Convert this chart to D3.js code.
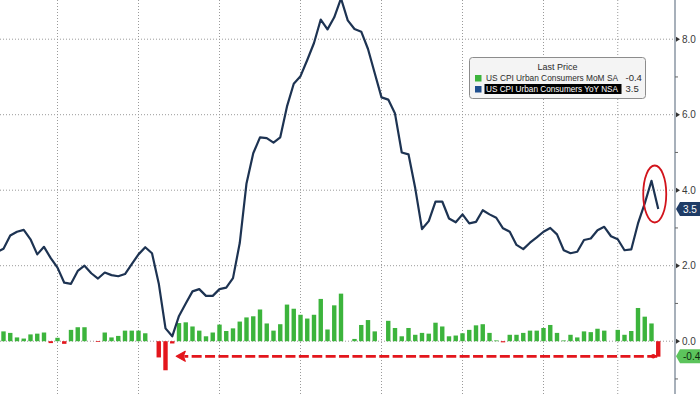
<!DOCTYPE html>
<html lang="en">
<head>
<meta charset="UTF-8">
<title>US CPI Urban Consumers YoY vs MoM</title>
<style>
  body { margin: 0; background: #fff; font-family: "Liberation Sans", Arial, sans-serif; }
  svg { display: block; }
  .grid line { stroke: #9a9a9a; stroke-width: 1; stroke-dasharray: 1,2; }
  .tick-label { font-size: 10px; fill: #3a3a3a; }
  .legend text { font-size: 9.5px; fill: #2b2b2b; }
  .legend text.name { font-size: 8.6px; }
</style>
</head>
<body>
<script src="https://cdn.jsdelivr.net/npm/d3@7"></script>
<script>
// monthly observations, Mar 2018 .. May 2026
const months = d3.timeMonth.range(new Date(2018, 2, 1), new Date(2026, 5, 1)).map(d3.timeFormat("%Y-%m"));

// US CPI YoY NSA (line)
const yoy = [2.36,
  2.45, 2.8, 2.9, 2.95, 2.7, 2.3, 2.5, 2.2, 1.95, 1.55,
  1.52, 1.86, 2.0, 1.8, 1.66, 1.82, 1.75, 1.72, 1.78, 2.04,
  2.3, 2.49, 2.33, 1.53, 0.34, 0.13, 0.67, 1.0, 1.32, 1.38,
  1.2, 1.2, 1.38, 1.42, 1.67, 2.6, 4.18, 4.98, 5.4, 5.38,
  5.26, 5.4, 6.22, 6.82, 7.02, 7.45, 7.9, 8.52, 8.26, 8.58,
  9.08, 8.5, 8.27, 8.2, 7.74, 7.1, 6.46, 6.4, 6.03, 5.0,
  4.95, 4.05, 2.97, 3.18, 3.7, 3.7, 3.25, 3.15, 3.36, 3.12,
  3.16, 3.47, 3.36, 3.27, 2.99, 2.9, 2.55, 2.44, 2.61, 2.75,
  2.9, 3.0, 2.83, 2.41, 2.33, 2.37, 2.68, 2.72, 2.94, 3.03,
  2.78, 2.7, 2.41, 2.43, 3.12, 3.65, 4.25, 3.5];

// US CPI MoM SA (bars), null = no print
const mom = [null,
  0.26, 0.22, 0.1, 0.07, 0.18, 0.2, 0.23, -0.05, 0.09, -0.07,
  0.3, 0.37, 0.37, 0.0, -0.02, 0.23, 0.1, 0.14, 0.28, 0.28,
  0.28, 0.21, 0.0, -0.43, -0.77, -0.06, 0.48, 0.5, 0.39, 0.28,
  0.13, 0.23, 0.44, 0.27, 0.34, 0.52, 0.63, 0.66, 0.84, 0.47,
  0.28, 0.45, 0.97, 0.86, 0.7, 0.6, 0.7, 1.12, 0.31, 0.95,
  1.26, 0.0, 0.06, 0.43, 0.56, 0.26, 0.0, 0.54, 0.35, 0.13,
  0.35, 0.17, 0.22, 0.2, 0.49, 0.39, 0.13, 0.15, 0.21, 0.3,
  0.42, 0.45, 0.22, 0.02, -0.03, 0.17, 0.17, 0.22, 0.28, 0.28,
  0.35, 0.43, 0.22, 0.02, 0.17, 0.1, 0.26, 0.24, 0.33, 0.28,
  null, 0.3, 0.17, 0.27, 0.88, 0.65, 0.47, -0.41];

const gridMonths = ["2018-12", "2019-12", "2020-12", "2021-12", "2022-12", "2023-12", "2024-12", "2025-11"];
const yTicks = [0, 2, 4, 6, 8];
const yMinor = [-1, 1, 3, 5, 7];
const seriesNames = ["US CPI Urban Consumers MoM SA", "US CPI Urban Consumers YoY NSA"];
const lastValues = ["-0.4", "3.5"];
const legendTitle = "Last Price";

const W = 700, H = 394, axisX = 675;
const green = "#3cb43c", red = "#e3161c", navy = "#1d3352";

const svg = d3.select("body").append("svg").attr("width", W).attr("height", H);

const x = d3.scalePoint().domain(months).range([-3.25, 658.25]);
const y = d3.scaleLinear().domain([0, 8]).range([341.2, 39.2]);
const barW = 4.4;

svg.append("clipPath").attr("id", "plot")
  .append("rect").attr("x", 0).attr("y", 0).attr("width", axisX).attr("height", H);

// grid
const grid = svg.append("g").attr("class", "grid");
grid.selectAll(".v").data(gridMonths).join("line")
  .attr("x1", d => x(d)).attr("x2", d => x(d)).attr("y1", 0).attr("y2", H);
grid.selectAll(".h").data(yTicks).join("line")
  .attr("x1", 0).attr("x2", axisX).attr("y1", d => y(d)).attr("y2", d => y(d));

const plot = svg.append("g").attr("clip-path", "url(#plot)");

// MoM bars
const barData = months.map((m, i) => ({ m, v: mom[i] })).filter(d => d.v !== null && d.v !== 0);
plot.selectAll("rect.bar").data(barData).join("rect")
  .attr("class", "bar")
  .attr("x", d => x(d.m) - barW / 2)
  .attr("width", barW)
  .attr("y", d => y(Math.max(0, d.v)))
  .attr("height", d => Math.abs(y(d.v) - y(0)))
  .attr("fill", d => d.v < 0 ? red : green);

// YoY line
const line = d3.line().x((d, i) => x(months[i])).y(d => y(d));
plot.append("path").datum(yoy)
  .attr("fill", "none").attr("stroke", navy).attr("stroke-width", 2.2)
  .attr("stroke-linejoin", "round").attr("d", line);

// right axis
const ax = svg.append("g");
ax.append("line").attr("x1", axisX).attr("x2", axisX).attr("y1", 0).attr("y2", H)
  .attr("stroke", "#8a96a3").attr("stroke-width", 1.5);
ax.selectAll(".minor").data(yMinor).join("line")
  .attr("x1", axisX).attr("x2", axisX + 3).attr("y1", d => y(d)).attr("y2", d => y(d))
  .attr("stroke", "#666");
ax.selectAll(".mark").data(yTicks).join("path")
  .attr("d", d => `M${axisX + 1},${y(d) - 2.5}L${axisX + 5},${y(d)}L${axisX + 1},${y(d) + 2.5}Z`)
  .attr("fill", "#333");
ax.selectAll(".lbl").data(yTicks).join("text")
  .attr("class", "tick-label")
  .attr("x", axisX + 7).attr("y", d => y(d)).attr("dy", "0.35em")
  .text(d => d3.format(".1f")(d));

// last value tags
function tag(v, fill, color, label) {
  const cy = y(v);
  const g = svg.append("g");
  g.append("path")
    .attr("d", `M${axisX + 1},${cy}L${axisX + 5},${cy - 7}L${W},${cy - 7}L${W},${cy + 7}L${axisX + 5},${cy + 7}Z`)
    .attr("fill", fill);
  g.append("text").attr("x", axisX + 8).attr("y", cy).attr("dy", "0.35em")
    .attr("font-size", "10px").attr("fill", color).text(label);
}
tag(+lastValues[1], "#1f3c66", "#fff", lastValues[1]);
tag(+lastValues[0], "#5cc45c", "#0e2a0e", lastValues[0]);

// annotations: circle round the last YoY print, dashed arrow back to the 2020 dip
const last = months[months.length - 1];
svg.append("ellipse")
  .attr("cx", x(last) - 3.5).attr("cy", y(3.9)).attr("rx", 11.5).attr("ry", 28.5)
  .attr("fill", "none").attr("stroke", "#d2141c").attr("stroke-width", 1.8);

const arrowY = y(-0.4);
const arrowEnd = x("2020-05") + 4;
svg.append("path")
  .attr("d", `M${x(last) - 1},${arrowY}L${arrowEnd + 8},${arrowY}`)
  .attr("stroke", red).attr("stroke-width", 2.8).attr("stroke-dasharray", "10,3.4").attr("fill", "none");
svg.append("circle").attr("cx", x(last) - 5).attr("cy", arrowY).attr("r", 2.2).attr("fill", red);
svg.append("path")
  .attr("d", `M${arrowEnd},${arrowY}L${arrowEnd + 9},${arrowY - 5}L${arrowEnd + 7},${arrowY}L${arrowEnd + 9},${arrowY + 5}Z`)
  .attr("fill", red).attr("stroke", red).attr("stroke-width", 1.2).attr("stroke-linejoin", "round");

// legend
const lg = svg.append("g").attr("class", "legend").attr("transform", "translate(469.5,57.5)");
lg.append("rect").attr("width", 176).attr("height", 41).attr("rx", 3)
  .attr("fill", "#f4f4f4").attr("stroke", "#8c8c8c");
lg.append("text").attr("x", 88).attr("y", 9.5).attr("dy", "0.35em").attr("text-anchor", "middle")
  .attr("textLength", 40).attr("lengthAdjust", "spacingAndGlyphs").text(legendTitle);
const rows = [{ name: seriesNames[0], color: green, v: lastValues[0] }, { name: seriesNames[1], color: "#1f4f8f", v: lastValues[1] }];
rows.forEach((r, i) => {
  const cy = 20.5 + i * 11;
  lg.append("rect").attr("x", 5.5).attr("y", cy - 3).attr("width", 6.5).attr("height", 6.5).attr("fill", r.color);
  if (i === 1) lg.append("rect").attr("x", 15).attr("y", cy - 5).attr("width", 137).attr("height", 10).attr("fill", "#000");
  lg.append("text").attr("class", "name").attr("x", 16.5).attr("y", cy).attr("dy", "0.35em")
    .style("fill", i === 1 ? "#fff" : "#2b2b2b")
    .attr("textLength", 132).attr("lengthAdjust", "spacingAndGlyphs").text(r.name);
  lg.append("text").attr("x", 156).attr("y", cy).attr("dy", "0.35em").text(r.v);
});
</script>
</body>
</html>
